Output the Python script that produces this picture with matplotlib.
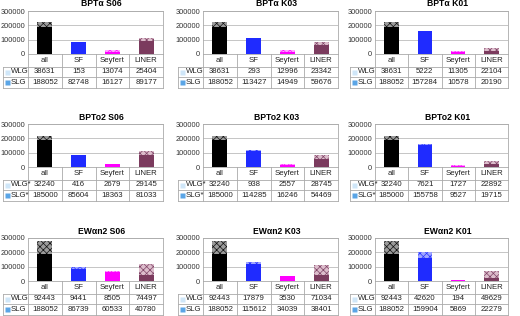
import numpy as np
import matplotlib.pyplot as plt

plt.rcParams['font.family'] = ['Liberation Sans', 'DejaVu Sans']
plt.rcParams['hatch.linewidth'] = 0.5

cats = ['all', 'SF', 'Seyfert', 'LINER']

# BPT alpha
bpta_s06_wlg = [38631, 153, 13074, 25404]
bpta_s06_slg = [188052, 82748, 16127, 89177]
bpta_k03_wlg = [38631, 293, 12996, 23342]
bpta_k03_slg = [188052, 113427, 14949, 59676]
bpta_k01_wlg = [38631, 5222, 11305, 22104]
bpta_k01_slg = [188052, 157284, 10578, 20190]
# BPT o2
bpto2_s06_wlg = [32240, 416, 2679, 29145]
bpto2_s06_slg = [185000, 85604, 18363, 81033]
bpto2_k03_wlg = [32240, 938, 2557, 28745]
bpto2_k03_slg = [185000, 114285, 16246, 54469]
bpto2_k01_wlg = [32240, 7621, 1727, 22892]
bpto2_k01_slg = [185000, 155758, 9527, 19715]
# EW alpha n2
ewan2_s06_wlg = [92443, 9441, 8505, 74497]
ewan2_s06_slg = [188052, 86739, 60533, 40780]
ewan2_k03_wlg = [92443, 17879, 3530, 71034]
ewan2_k03_slg = [188052, 115612, 34039, 38401]
ewan2_k01_wlg = [92443, 42620, 194, 49629]
ewan2_k01_slg = [188052, 159904, 5869, 22279]

panels = [
    ('BPTα S06', bpta_s06_wlg, bpta_s06_slg, ['WLG', 'SLG']),
    ('BPTα K03', bpta_k03_wlg, bpta_k03_slg, ['WLG', 'SLG']),
    ('BPTα K01', bpta_k01_wlg, bpta_k01_slg, ['WLG', 'SLG']),
    ('BPTo2 S06', bpto2_s06_wlg, bpto2_s06_slg, ['WLG*', 'SLG*']),
    ('BPTo2 K03', bpto2_k03_wlg, bpto2_k03_slg, ['WLG*', 'SLG*']),
    ('BPTo2 K01', bpto2_k01_wlg, bpto2_k01_slg, ['WLG*', 'SLG*']),
    ('EWαn2 S06', ewan2_s06_wlg, ewan2_s06_slg, ['WLG', 'SLG']),
    ('EWαn2 K03', ewan2_k03_wlg, ewan2_k03_slg, ['WLG', 'SLG']),
    ('EWαn2 K01', ewan2_k01_wlg, ewan2_k01_slg, ['WLG', 'SLG']),
]

slg_cols = ['#000000', '#1f2bff', '#ff00ff', '#7b3b5e']
hatch_cols = ['#111111', '#2a36ff', '#ff11ff', '#7f4466']
wlg_face = ['#9a9a9a', '#a0a6ff', '#ffa6ff', '#dcbccb']
marker_cols = ['#cfe6f8', '#5aa5e6']

W, H = 520, 316
fig = plt.figure(figsize=(5.2, 3.16), dpi=100)


def px_axes(x0, y0, w, h):
    return fig.add_axes([x0 / W, 1 - (y0 + h) / H, w / W, h / H])


col_x = [28, 203, 375]
col_w = [135, 135, 133]
row_y = [11, 124, 238]
ax_h = 43
cat_h, val_h = 12.7, 10.5
lab_w = 25
line_c = '#aaaaaa'

for k, (title, wlg, slg, rlabs) in enumerate(panels):
    r, c = divmod(k, 3)
    x0, y0, w = col_x[c], row_y[r], col_w[c]
    ax = px_axes(x0, y0, w, ax_h)
    xs = np.arange(len(cats))
    ax.bar(xs, slg, width=0.44, color=slg_cols, lw=0, zorder=2)
    ax.bar(xs, wlg, bottom=slg, width=0.44, color=wlg_face,
           edgecolor=hatch_cols, hatch='xxxxx', lw=0, zorder=2)
    ax.set_xlim(-0.5, 3.5)
    ax.set_ylim(0, 300000)
    yt = [0, 100000, 200000, 300000]
    ax.set_yticks(yt)
    ax.set_yticklabels([str(v) for v in yt])
    ax.set_xticks([])
    ax.tick_params(length=0, labelsize=5.3, pad=2, labelcolor='#333333')
    ax.grid(axis='y', color='#bbbbbb', lw=0.6)
    ax.set_axisbelow(True)
    for s in ax.spines.values():
        s.set_color(line_c)
        s.set_linewidth(0.6)
    fig.text((x0 + w / 2 + 6) / W, 1 - (y0 - 7) / H, title, ha='center',
             va='center', fontsize=6.2, fontweight='bold')

    # data table under the bars
    tot_h = cat_h + 2 * val_h
    tax = px_axes(x0 - lab_w, y0 + ax_h, w + lab_w, tot_h)
    upp = 4 / w
    xl = -0.5 - lab_w * upp
    tax.set_xlim(xl, 3.5)
    tax.set_ylim(tot_h, 0)
    tax.axis('off')
    kw = dict(color=line_c, lw=0.6, clip_on=False)
    tax.plot([xl, 3.5], [cat_h, cat_h], **kw)
    tax.plot([xl, 3.5], [cat_h + val_h, cat_h + val_h], **kw)
    tax.plot([xl, 3.5], [tot_h, tot_h], **kw)
    tax.plot([xl, xl], [cat_h, tot_h], **kw)
    for xv in [-0.5, 0.5, 1.5, 2.5, 3.5]:
        tax.plot([xv, xv], [0, tot_h], **kw)
    for i, cat in enumerate(cats):
        tax.text(i, cat_h / 2, cat, ha='center', va='center', fontsize=5.6,
                 color='#222222')
        tax.text(i, cat_h + val_h / 2, str(wlg[i]), ha='center', va='center',
                 fontsize=5.6, color='#222222')
        tax.text(i, cat_h + 1.5 * val_h, str(slg[i]), ha='center',
                 va='center', fontsize=5.6, color='#222222')
    for j, lab in enumerate(rlabs):
        yc = cat_h + (j + 0.5) * val_h
        tax.plot([xl + 4 * upp], [yc], marker='s', ms=3.6, mec='none',
                 color=marker_cols[j], clip_on=False)
        tax.text(xl + 7.5 * upp, yc, lab, ha='left', va='center',
                 fontsize=5.6, color='#222222')

fig.savefig('out.png', dpi=100)
